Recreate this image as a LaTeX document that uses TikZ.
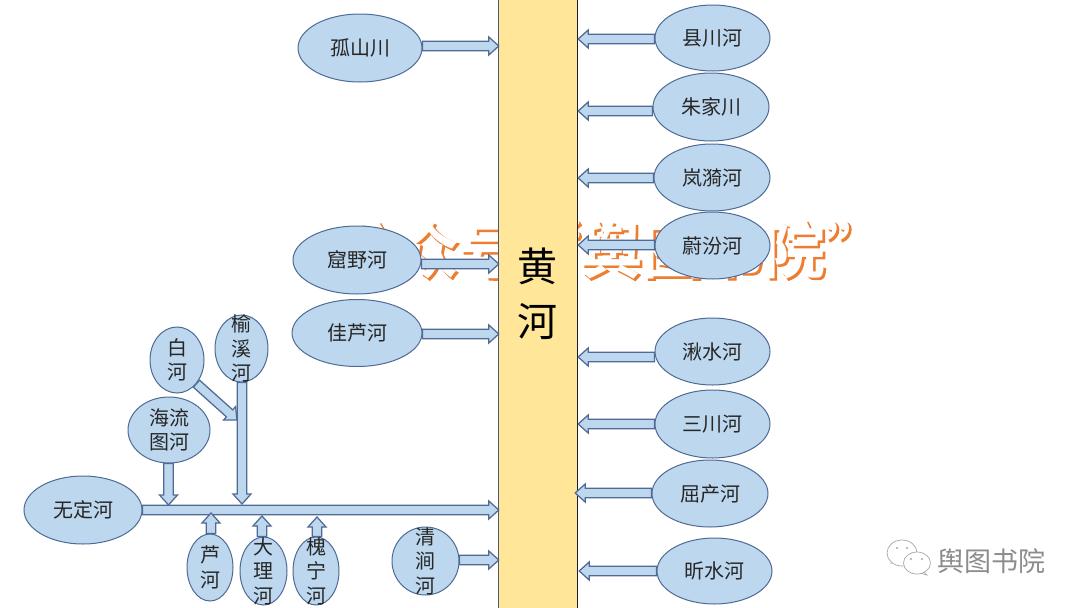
\documentclass[tikz,border=0pt]{standalone}
\usepackage{fontspec}
\setmainfont{Noto Sans CJK SC}
\newfontfamily\wmwhite{Noto Sans CJK SC Bold}
\newfontfamily\wmorange[FakeBold=2]{Noto Sans CJK SC Bold}
\usetikzlibrary{shapes.geometric,calc}
\pgfdeclarelayer{bglayer}
\pgfdeclarelayer{arrlayer}
\pgfsetlayers{bglayer,arrlayer,main}
\definecolor{riverfill}{HTML}{BDD7EE}
\definecolor{riveredge}{HTML}{4F6A94}
\definecolor{huangfill}{HTML}{FFE699}
\definecolor{wmorangec}{HTML}{ED7D31}
\tikzset{
  x=1pt,y=-1pt,
  riverlabel/.style={align=center,text=black!85,inner sep=0pt,font=\fontsize{20}{24.5}\selectfont},
  riverbase/.style n args={2}{ellipse,draw=riveredge,fill=riverfill,line width=1pt,inner sep=0pt,minimum width=#1,minimum height=#2},
  barrowstyle/.style={draw=riveredge,fill=riverfill,line width=1.25pt,line join=miter},
}
% \river{name}{x}{y}{width}{height}{text}
\newcommand{\river}[6]{\node[riverbase={#4pt}{#5pt},label={[riverlabel]center:#6}] (#1) at (#2,#3) {};}
% \barrow{start}{tip}
\newcommand{\barrow}[2]{%
  \begin{pgfonlayer}{arrlayer}
  \coordinate (ts) at (#1);
  \coordinate (tt) at (#2);
  \coordinate (tn) at ($(tt)!10pt!(ts)$);
  \draw[barrowstyle] ($(ts)!4.7pt!90:(tt)$) -- ($(tn)!4.7pt!90:(tt)$) -- ($(tn)!9pt!90:(tt)$) -- (tt)
     -- ($(tn)!9pt!-90:(tt)$) -- ($(tn)!4.7pt!-90:(tt)$) -- ($(ts)!4.7pt!-90:(tt)$) -- cycle;
  \end{pgfonlayer}}
\begin{document}
\begin{tikzpicture}
\useasboundingbox (0,0) rectangle (1080,608);
\begin{pgfonlayer}{bglayer}
  \fill[white] (0,0) rectangle (1080,608);
  \node[inner sep=0pt,text=wmorangec,font=\wmorange\fontsize{61}{61}\selectfont] (wmshadow) at (613.5,251.5) {公众号“舆图书院”};
  \node[inner sep=0pt,text=white,font=\wmwhite\fontsize{61}{61}\selectfont] (wmtext) at (612,250) {公众号“舆图书院”};
  \node[fill=huangfill,minimum width=78pt,minimum height=610pt,inner sep=0pt] (huang) at (538,304) {};
  \draw[black!30!riveredge!70!gray,line width=1.3pt] (huang.north west) -- (huang.south west);
  \draw[black!70!riveredge,line width=1pt] (huang.north east) -- (huang.south east);
  \node[inner sep=0pt,align=center,font=\fontsize{40}{55}\selectfont,text=black] (huangtext) at (537,294) {黄\\河};
  % corner mark
  \node[inner sep=0pt,text=black!45,font=\fontsize{27}{27}\selectfont] (mark) at (991.5,561) {舆图书院};
  \draw[black!35,fill=white,line width=0.7pt] (891,563) -- (896,558) -- (902,562) -- cycle;
  \node[ellipse,draw=black!35,fill=white,line width=0.7pt,minimum width=30pt,minimum height=26pt,inner sep=0pt] (bubbleA) at (902,553) {};
  \draw[black!35,fill=white,line width=0.7pt] (927,575) -- (921,569) -- (916,572) -- cycle;
  \node[ellipse,draw=black!35,fill=white,line width=0.7pt,minimum width=27pt,minimum height=22pt,inner sep=0pt] (bubbleB) at (917,563) {};
  \fill[black!35] (897,548) circle (1.2) (907,548) circle (1.2) (911,559) circle (1.2) (922,559) circle (1.2);
\end{pgfonlayer}

\river{gushan}{360}{48}{124}{68}{孤山川}
\river{kuye}{357}{260}{128}{68}{窟野河}
\river{jialu}{357}{333}{130}{67}{佳芦河}
\river{xian}{712.5}{38}{115}{66}{县川河}
\river{zhujia}{711}{107}{116}{68}{朱家川}
\river{lanyi}{712}{177.5}{116}{67}{岚漪河}
\river{weifen}{712.5}{245.5}{115}{67}{蔚汾河}
\river{qiushui}{712.5}{351.5}{115}{67}{湫水河}
\river{sanchuan}{712.5}{424}{115}{68}{三川河}
\river{quchan}{710}{493.5}{116}{67}{屈产河}
\river{xinshui}{714.5}{571}{115}{66}{昕水河}
\river{wuding}{83}{510}{118}{68}{无定河}
\river{bai}{177}{360}{54}{66}{白\\河}
\river{yuxi}{241.5}{348.5}{53}{67}{榆\\溪\\河}
\river{hailiu}{169}{430}{82}{66}{海流\\图河}
\river{lu}{210}{567.5}{46}{67}{芦\\河}
\river{dali}{263.5}{571}{47}{68}{大\\理\\河}
\river{huaining}{316}{571}{46}{68}{槐\\宁\\河}
\river{qingjian}{425.5}{561}{67}{68}{清\\涧\\河}

% left side
\barrow{gushan.east |- 0,46}{huang.west |- 0,46}
\barrow{kuye.east |- 0,264}{huang.west |- 0,264}
\barrow{jialu.east |- 0,334}{huang.west |- 0,334}
\barrow{wuding.east}{huang.west |- 0,510}
\barrow{qingjian.east |- 0,560}{huang.west |- 0,560}
% right side
\barrow{xian.west |- 0,39}{$(huang.east |- 0,39)+(1,0)$}
\barrow{zhujia.west |- 0,111}{$(huang.east |- 0,111)+(1,0)$}
\barrow{lanyi.west |- 0,178}{$(huang.east |- 0,178)+(1,0)$}
\barrow{weifen.west |- 0,245}{$(huang.east |- 0,245)+(1,0)$}
\barrow{qiushui.west |- 0,357}{$(huang.east |- 0,357)+(1,0)$}
\barrow{sanchuan.west |- 0,424}{$(huang.east |- 0,424)+(1,0)$}
\barrow{quchan.west |- 0,493}{$(huang.east |- 0,493)+(-2,0)$}
\barrow{xinshui.west |- 0,571}{$(huang.east |- 0,571)+(2,0)$}
% tributaries
\coordinate (baitip) at (237,420);
\barrow{bai.south east}{baitip}
\coordinate (yuxitip) at (242,504);
\barrow{yuxi.south -| yuxitip}{yuxitip}
\coordinate (hailiutip) at (168.5,505);
\barrow{hailiu.south -| hailiutip}{hailiutip}
\coordinate (lutip) at (211,513);
\barrow{lu.north -| lutip}{lutip}
\coordinate (dalitip) at (262,516);
\barrow{dali.north -| dalitip}{dalitip}
\coordinate (huainingtip) at (317,517);
\barrow{huaining.north -| huainingtip}{huainingtip}
\end{tikzpicture}
\end{document}
